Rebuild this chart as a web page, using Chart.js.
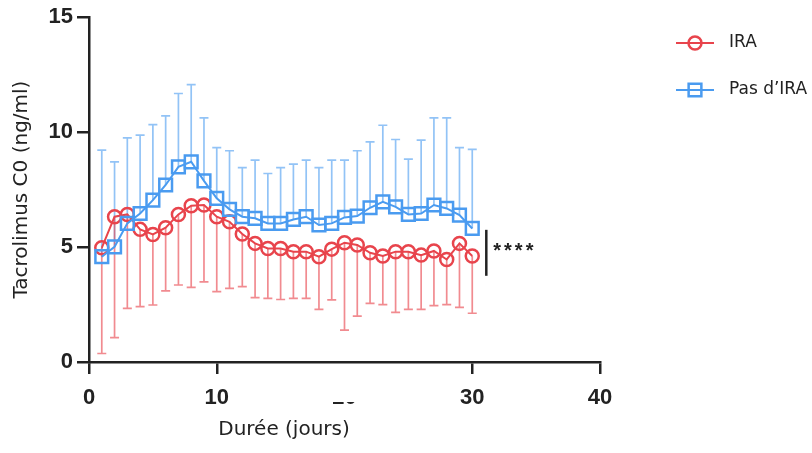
<!DOCTYPE html>
<html><head><meta charset="utf-8">
<script src="https://cdn.jsdelivr.net/npm/chart.js@4.4.1/dist/chart.umd.min.js"></script>
<style>html,body{margin:0;padding:0;background:#fff}</style>
</head><body>
<canvas id="c" width="812" height="453"></canvas>
<script>
// ---- data ----
const days = [1,2,3,4,5,6,7,8,9,10,11,12,13,14,15,16,17,18,19,20,21,22,23,24,25,26,27,28,29,30];
const iraMean  = [4.97,6.32,6.42,5.77,5.55,5.84,6.42,6.80,6.83,6.32,6.10,5.57,5.16,4.94,4.94,4.80,4.80,4.58,4.91,5.19,5.09,4.75,4.61,4.80,4.80,4.65,4.83,4.46,5.16,4.61];
const iraLower = [0.37,1.06,2.33,2.41,2.48,3.09,3.35,3.25,3.49,3.06,3.20,3.28,2.80,2.77,2.72,2.77,2.77,2.29,2.70,1.39,2.00,2.55,2.50,2.16,2.29,2.29,2.45,2.50,2.38,2.12];
const pasMean  = [4.58,5.01,6.03,6.46,7.04,7.70,8.49,8.71,7.88,7.12,6.64,6.32,6.25,6.03,6.03,6.20,6.32,5.96,6.03,6.29,6.35,6.71,6.97,6.75,6.42,6.46,6.83,6.68,6.39,5.81];
const pasUpper = [9.22,8.71,9.75,9.87,10.33,10.71,11.68,12.07,10.62,9.33,9.19,8.46,8.78,8.20,8.46,8.61,8.78,8.46,8.78,8.78,9.19,9.58,10.30,9.68,8.83,9.65,10.62,10.62,9.33,9.25];
const xTicks = [0,10,20,30,40];
const yTicks = [0,5,10,15];
const seriesNames = ['IRA','Pas d\u2019IRA'];
const xTitle = 'Dur\u00e9e (jours)';
const yTitle = 'Tacrolimus C0 (ng/ml)';
const sigLabel = '****';

const RED = 'rgb(232,68,76)';
const BLUE = 'rgb(74,155,240)';
const RED_ERR = 'rgba(232,68,76,0.62)';
const BLUE_ERR = 'rgba(74,155,240,0.6)';
const AXIS = '#222';

const toXY = (ys) => days.map((d,i)=>({x:d,y:ys[i]}));

const errorBars = {
  id:'errorBars',
  beforeDatasetsDraw(chart){
    const {ctx, scales:{x,y}} = chart;
    const draw = (means, ends, color) => {
      ctx.save();
      ctx.strokeStyle = color; ctx.lineWidth = 1.7;
      means.forEach((m,i)=>{
        const px = x.getPixelForValue(days[i]);
        const p1 = y.getPixelForValue(m), p2 = y.getPixelForValue(ends[i]);
        ctx.beginPath();
        ctx.moveTo(px,p1); ctx.lineTo(px,p2);
        ctx.moveTo(px-4.5,p2); ctx.lineTo(px+4.5,p2);
        ctx.stroke();
      });
      ctx.restore();
    };
    draw(pasMean, pasUpper, BLUE_ERR);
    draw(iraMean, iraLower, RED_ERR);
  }
};

const extras = {
  id:'extras',
  afterDraw(chart){
    const {ctx, scales:{x,y}} = chart;
    ctx.save();
    // hidden "20" label region as in reference
    const p20 = x.getPixelForValue(20);
    ctx.fillStyle = '#fff';
    ctx.fillRect(p20-22, y.bottom+2, 44, 38);
    // x title
    ctx.fillStyle = '#222';
    ctx.font = '20px "DejaVu Sans"';
    ctx.textAlign = 'center'; ctx.textBaseline = 'middle';
    ctx.fillText(xTitle, 284, 430);
    // significance bar
    const sx = x.getPixelForValue(31.1);
    ctx.strokeStyle = '#222'; ctx.lineWidth = 2.5;
    ctx.beginPath();
    ctx.moveTo(sx, y.getPixelForValue(5.75));
    ctx.lineTo(sx, y.getPixelForValue(3.75));
    ctx.stroke();
    ctx.font = 'bold 20px "Liberation Sans"';
    ctx.letterSpacing = '3px';
    ctx.textAlign = 'left'; ctx.textBaseline = 'alphabetic';
    ctx.fillText(sigLabel, sx+7, 257);
    ctx.letterSpacing = '0px';
    // legend
    const items = [
      {name:seriesNames[0], color:RED, style:'circle', r:6.5, y:43},
      {name:seriesNames[1], color:BLUE, style:'rect', r:9, y:90}
    ];
    items.forEach(it=>{
      ctx.strokeStyle = it.color; ctx.lineWidth = 2;
      ctx.beginPath(); ctx.moveTo(676,it.y); ctx.lineTo(714,it.y); ctx.stroke();
      ctx.lineWidth = 2.5;
      ctx.fillStyle = 'rgba(255,255,255,0)';
      Chart.helpers.drawPoint(ctx,{pointStyle:it.style, radius:it.r, borderWidth:2.5}, 695, it.y);
      ctx.fillStyle = '#222';
      ctx.font = '17px "DejaVu Sans"';
      ctx.textAlign = 'left'; ctx.textBaseline = 'middle';
      ctx.fillText(it.name, 729, it.y);
    });
    ctx.restore();
  }
};

new Chart(document.getElementById('c'), {
  type:'line',
  data:{
    datasets:[
      {label:seriesNames[1], data:toXY(pasMean), borderColor:BLUE, backgroundColor:'rgba(255,255,255,0)',
       borderWidth:2, pointStyle:'rect', pointRadius:9, pointBorderWidth:2.5, pointBorderColor:BLUE, pointBackgroundColor:'rgba(255,255,255,0)', tension:0},
      {label:seriesNames[0], data:toXY(iraMean), borderColor:RED, backgroundColor:'rgba(255,255,255,0)',
       borderWidth:2, pointStyle:'circle', pointRadius:6.5, pointBorderWidth:2.5, pointBorderColor:RED, pointBackgroundColor:'rgba(255,255,255,0)', tension:0}
    ]
  },
  options:{
    responsive:false, animation:false,
    layout:{padding:{left:0,right:212,top:17,bottom:0}},
    plugins:{legend:{display:false}, tooltip:{enabled:false}},
    scales:{
      x:{type:'linear', min:0, max:40,
         afterBuildTicks(s){ s.ticks = xTicks.map(v=>({value:v})); },
         afterFit(s){ s.height = 91; },
         grid:{drawOnChartArea:false, tickLength:12, lineWidth:2.5,
               color:(c)=> (c.tick && c.tick.value===20) ? 'rgba(0,0,0,0)' : AXIS},
         border:{display:true, color:AXIS, width:2.5},
         ticks:{color:'#222', padding:11, maxRotation:0, autoSkip:false,
                font:{family:'"Liberation Sans"', weight:'bold', size:22}}
      },
      y:{type:'linear', min:0, max:15,
         afterBuildTicks(s){ s.ticks = yTicks.map(v=>({value:v})); },
         afterFit(s){ s.width = 89; },
         grid:{drawOnChartArea:false, tickLength:12, lineWidth:2.5, color:AXIS},
         border:{display:true, color:AXIS, width:2.5},
         ticks:{color:'#222', padding:4, font:{family:'"Liberation Sans"', weight:'bold', size:22}},
         title:{display:true, text:yTitle, color:'#222', padding:{top:10,bottom:0},
                font:{family:'"DejaVu Sans"', size:20}}
      }
    }
  },
  plugins:[errorBars, extras]
});
</script>
</body></html>
